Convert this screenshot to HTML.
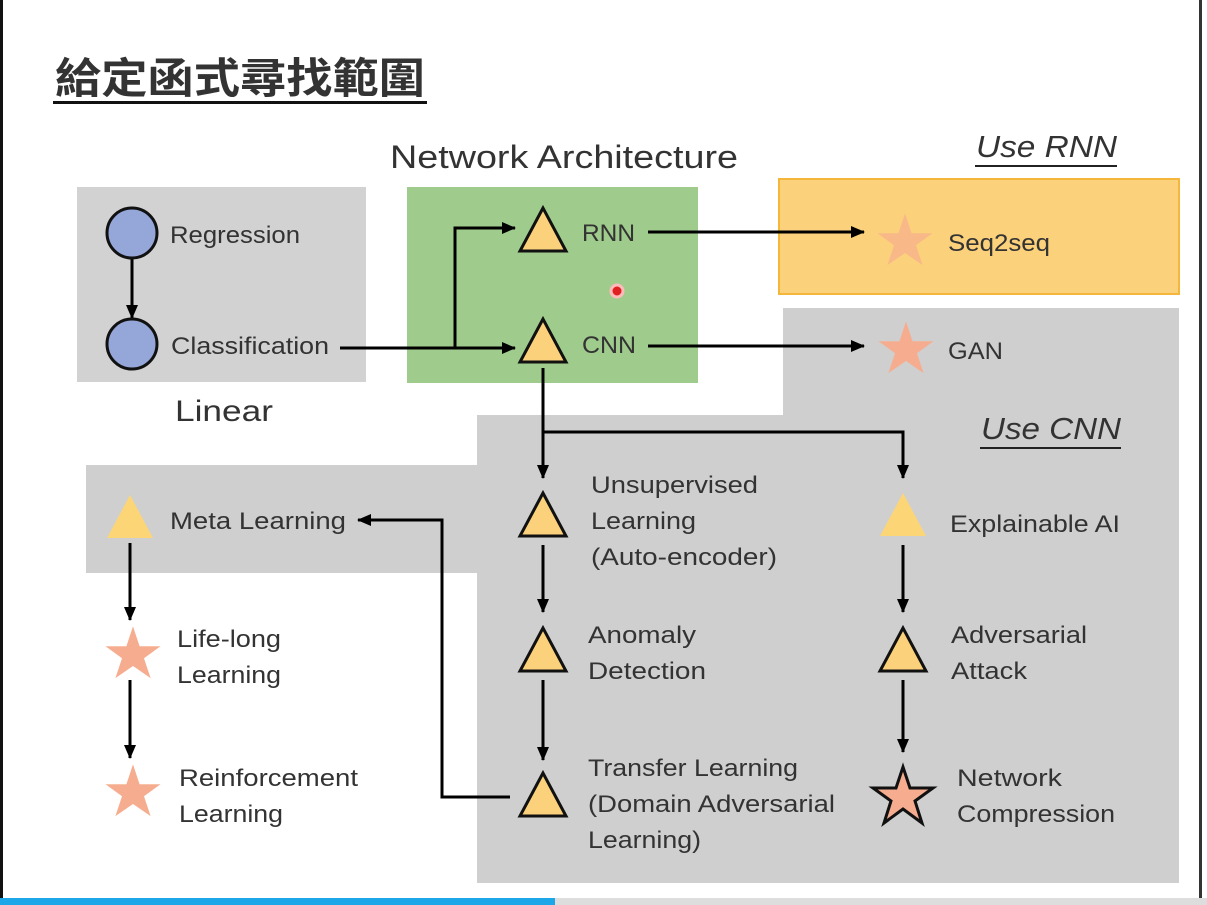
<!DOCTYPE html>
<html><head><meta charset="utf-8"><style>
html,body{margin:0;padding:0;background:#fff;width:1207px;height:905px;overflow:hidden}
svg{display:block}
text{font-family:"Liberation Sans","Noto Sans CJK TC",sans-serif;fill:#333}
</style></head><body>
<svg width="1207" height="905" viewBox="0 0 1207 905">
<defs>
<marker id="a" markerWidth="14" markerHeight="12" refX="13" refY="6" orient="auto" markerUnits="userSpaceOnUse"><path d="M0,0 L14,6 L0,12 z" fill="#000"/></marker>
</defs>
<rect x="0" y="0" width="3" height="898" fill="#111"/>
<rect x="1199" y="0" width="3" height="898" fill="#333"/>
<rect x="0" y="898" width="555" height="7" fill="#1ea7e8"/>
<rect x="555" y="898" width="652" height="7" fill="#ddd"/>
<rect x="77" y="187" width="289" height="195" fill="#d2d2d2"/>
<rect x="407" y="187" width="291" height="196" fill="#9fcb8c"/>
<rect x="779" y="179" width="400" height="115" fill="#fbd27b" stroke="#f4b73c" stroke-width="2"/>
<path d="M783,308 H1179 V883 H477 V573 H86 V465 H477 V415 H783 Z" fill="#cfcfcf"/>
<text x="55" y="93" font-size="42" font-weight="bold" fill="#111" textLength="370" lengthAdjust="spacingAndGlyphs">給定函式尋找範圍</text>
<rect x="53" y="101" width="374" height="3" fill="#111"/>
<text x="390" y="168" font-size="32" fill="#222" textLength="348" lengthAdjust="spacingAndGlyphs">Network Architecture</text>
<text x="976" y="157" font-size="31" font-style="italic" fill="#222" textLength="141" lengthAdjust="spacingAndGlyphs">Use RNN</text>
<rect x="975" y="165" width="142" height="2" fill="#222"/>
<text x="981" y="439" font-size="31" font-style="italic" fill="#222" textLength="140" lengthAdjust="spacingAndGlyphs">Use CNN</text>
<rect x="980" y="447" width="141" height="2" fill="#222"/>
<text x="175" y="421" font-size="30" fill="#111" textLength="98" lengthAdjust="spacingAndGlyphs">Linear</text>
<g stroke="#000" stroke-width="3" fill="none">
<line x1="132" y1="259" x2="132" y2="318" marker-end="url(#a)"/>
<line x1="340" y1="348" x2="515" y2="348" marker-end="url(#a)"/>
<polyline points="455,348 455,228 515,228" marker-end="url(#a)"/>
<line x1="648" y1="232" x2="864" y2="232" marker-end="url(#a)"/>
<line x1="648" y1="346" x2="864" y2="346" marker-end="url(#a)"/>
<line x1="543" y1="368" x2="543" y2="478" marker-end="url(#a)"/>
<polyline points="543,432 903,432 903,478" marker-end="url(#a)"/>
<line x1="543" y1="545" x2="543" y2="612" marker-end="url(#a)"/>
<line x1="543" y1="680" x2="543" y2="760" marker-end="url(#a)"/>
<line x1="903" y1="545" x2="903" y2="612" marker-end="url(#a)"/>
<line x1="903" y1="680" x2="903" y2="752" marker-end="url(#a)"/>
<polyline points="510,797 442,797 442,520 358,520" marker-end="url(#a)"/>
<line x1="130" y1="543" x2="130" y2="620" marker-end="url(#a)"/>
<line x1="130" y1="680" x2="130" y2="758" marker-end="url(#a)"/>
</g>
<circle cx="132" cy="233" r="25" fill="#95a6d8" stroke="#111" stroke-width="3"/>
<circle cx="132" cy="344" r="25" fill="#95a6d8" stroke="#111" stroke-width="3"/>
<g fill="#fbd27b" stroke="#111" stroke-width="3" stroke-linejoin="miter">
<polygon points="543,208 520,251 566,251"/>
<polygon points="543,319 520,362 566,362"/>
<polygon points="543,493 520,536 566,536"/>
<polygon points="543,628 520,671 566,671"/>
<polygon points="543,773 520,816 566,816"/>
<polygon points="903,628 880,671 926,671"/>
</g>
<polygon points="903,493 880,536 926,536" fill="#fcd577"/>
<polygon points="130,495 107,538 153,538" fill="#fcd577"/>
<g fill="#f6ad8f">
<polygon transform="translate(905,242) scale(1.1)" opacity="0.7" points="0,-26 6,-8 25,-8 10,3 16,21 0,10 -16,21 -10,3 -25,-8 -6,-8"/>
<polygon transform="translate(906,350) scale(1.1)" points="0,-26 6,-8 25,-8 10,3 16,21 0,10 -16,21 -10,3 -25,-8 -6,-8"/>
<polygon transform="translate(133,655) scale(1.1)" points="0,-26 6,-8 25,-8 10,3 16,21 0,10 -16,21 -10,3 -25,-8 -6,-8"/>
<polygon transform="translate(133,793) scale(1.1)" points="0,-26 6,-8 25,-8 10,3 16,21 0,10 -16,21 -10,3 -25,-8 -6,-8"/>
<polygon transform="translate(903,797)" stroke="#111" stroke-width="3" points="0,-30 7,-9 30,-9 12,4 19,26 0,12 -19,26 -12,4 -30,-9 -7,-9"/>
</g>
<circle cx="617" cy="291" r="6" fill="#e02020" stroke="#fbb" stroke-width="3"/>
<g font-size="24">
<text x="170" y="243" textLength="130" lengthAdjust="spacingAndGlyphs">Regression</text>
<text x="171" y="354" textLength="158" lengthAdjust="spacingAndGlyphs">Classification</text>
<text x="582" y="241" textLength="53" lengthAdjust="spacingAndGlyphs">RNN</text>
<text x="582" y="353" textLength="54" lengthAdjust="spacingAndGlyphs">CNN</text>
<text x="948" y="251" textLength="102" lengthAdjust="spacingAndGlyphs">Seq2seq</text>
<text x="948" y="359" textLength="55" lengthAdjust="spacingAndGlyphs">GAN</text>
<text x="591" y="493" textLength="167" lengthAdjust="spacingAndGlyphs">Unsupervised</text>
<text x="591" y="529" textLength="105" lengthAdjust="spacingAndGlyphs">Learning</text>
<text x="591" y="565" textLength="186" lengthAdjust="spacingAndGlyphs">(Auto-encoder)</text>
<text x="950" y="532" textLength="170" lengthAdjust="spacingAndGlyphs">Explainable AI</text>
<text x="170" y="529" textLength="176" lengthAdjust="spacingAndGlyphs">Meta Learning</text>
<text x="588" y="643" textLength="108" lengthAdjust="spacingAndGlyphs">Anomaly</text>
<text x="588" y="679" textLength="118" lengthAdjust="spacingAndGlyphs">Detection</text>
<text x="951" y="643" textLength="136" lengthAdjust="spacingAndGlyphs">Adversarial</text>
<text x="951" y="679" textLength="76" lengthAdjust="spacingAndGlyphs">Attack</text>
<text x="177" y="647" textLength="104" lengthAdjust="spacingAndGlyphs">Life-long</text>
<text x="177" y="683" textLength="104" lengthAdjust="spacingAndGlyphs">Learning</text>
<text x="179" y="786" textLength="179" lengthAdjust="spacingAndGlyphs">Reinforcement</text>
<text x="179" y="822" textLength="104" lengthAdjust="spacingAndGlyphs">Learning</text>
<text x="588" y="776" textLength="210" lengthAdjust="spacingAndGlyphs">Transfer Learning</text>
<text x="588" y="812" textLength="247" lengthAdjust="spacingAndGlyphs">(Domain Adversarial</text>
<text x="588" y="848" textLength="113" lengthAdjust="spacingAndGlyphs">Learning)</text>
<text x="957" y="786" textLength="105" lengthAdjust="spacingAndGlyphs">Network</text>
<text x="957" y="822" textLength="158" lengthAdjust="spacingAndGlyphs">Compression</text>
</g>
</svg>
</body></html>
